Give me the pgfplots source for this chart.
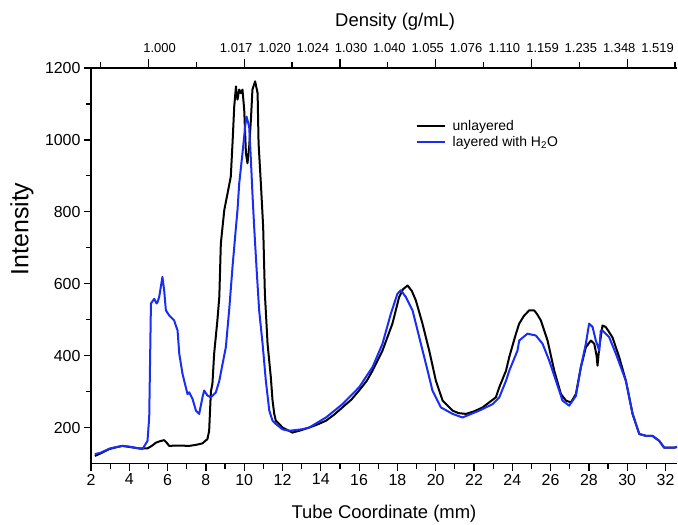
\documentclass[border=0pt]{standalone}
\usepackage{fontspec}
\setmainfont{Liberation Sans}
\usepackage{pgfplots}
\pgfplotsset{compat=1.18}
\definecolor{myblue}{RGB}{25,45,245}
\pgfplotstableread{
x y
2.2 121
2.5 128
2.95 140
3.3 145
3.64 149
4.0 146
4.52 142
4.95 142
5.2 150
5.39 158
5.6 162
5.82 165
5.95 158
6.08 149
6.5 150
7.13 149
7.5 152
7.82 156
8.08 168
8.17 191
8.26 300
8.34 321
8.43 405
8.6 498
8.7 563
8.78 712
8.96 805
9.13 851
9.3 898
9.39 991
9.48 1093
9.57 1149
9.62 1120
9.65 1112
9.74 1140
9.83 1130
9.91 1140
10.0 1084
10.09 963
10.17 935
10.26 981
10.35 1056
10.43 1140
10.57 1163
10.7 1130
10.75 991
10.87 879
10.99 758
11.08 572
11.22 433
11.39 340
11.48 275
11.57 238
11.65 219
11.83 210
12.0 200
12.52 186
13.0 193
13.39 200
13.8 208
14.27 219
14.7 236
15.13 256
15.6 278
16.0 303
16.4 330
16.7 358
17.22 414
17.74 489
18.09 563
18.3 585
18.53 595
18.75 580
18.96 554
19.31 489
19.66 414
20.01 330
20.36 275
20.88 247
21.2 240
21.58 238
22.0 245
22.45 256
23.14 284
23.32 312
23.67 358
23.84 396
24.19 461
24.36 489
24.6 510
24.88 526
25.14 526
25.3 515
25.49 498
25.84 442
26.19 358
26.54 293
26.80 275
27.06 270
27.32 293
27.58 368
27.84 423
28.1 442
28.28 433
28.4 400
28.45 372
28.54 423
28.71 484
28.89 479
29.23 451
29.58 396
29.93 330
30.28 238
30.63 182
30.98 177
31.32 177
31.67 163
31.93 144
32.45 144
32.6 146
}\unlayered
\pgfplotstableread{
x y
2.2 126
2.5 130
3.0 142
3.64 149
4.0 147
4.69 140
4.95 163
5.04 228
5.13 545
5.30 558
5.42 545
5.47 548
5.56 563
5.73 619
5.82 582
5.91 526
6.08 512
6.34 498
6.52 470
6.61 405
6.78 349
7.04 293
7.13 298
7.3 280
7.48 247
7.65 238
7.82 284
7.91 303
8.08 289
8.26 284
8.52 298
8.7 330
8.87 377
9.04 423
9.22 530
9.39 647
9.57 758
9.65 805
9.74 879
9.91 963
10.05 1037
10.12 1065
10.26 1037
10.35 944
10.43 851
10.52 758
10.64 647
10.78 526
10.96 433
11.13 330
11.31 247
11.48 219
11.65 210
12.0 195
12.35 191
13.0 195
13.39 200
14.27 228
15.13 265
16.0 312
16.7 368
17.22 433
17.66 517
18.0 572
18.18 582
18.44 563
18.79 526
19.14 451
19.49 377
19.83 303
20.27 256
20.88 238
21.4 228
22.27 247
22.97 265
23.32 284
23.67 330
23.84 358
24.27 414
24.36 442
24.79 461
25.23 456
25.58 433
25.93 386
26.28 330
26.62 275
26.97 261
27.32 288
27.58 368
27.84 433
28.01 489
28.19 480
28.36 442
28.54 414
28.62 470
28.71 470
29.06 451
29.41 405
29.93 330
30.28 238
30.63 182
30.98 177
31.32 177
31.67 163
31.93 144
32.45 144
32.6 146
}\layered
\begin{document}
\begin{tikzpicture}
\path[use as bounding box] (-91bp,-61.5bp) rectangle (587bp,463.5bp);
% top density axis
\begin{axis}[
  at={(0,0)}, anchor=south west,
  scale only axis, width=586bp, height=395.5bp,
  xmin=2, xmax=32.6, ymin=100, ymax=1200,
  axis x line*=top, hide y axis,
  axis line style={line width=1.2bp, -},
  tick style={line width=1.2bp, black},
  tick align=outside,
  xtick={5,10,15,20,25,30}, minor xtick={2.5,7.5,12.5,17.5,22.5,27.5,32.5},
  xticklabels={},
  major tick length=9bp, minor tick length=6bp,
  extra x ticks={6,10,12,14,16,18,20,22,24,26,28,30,32},
  extra x tick labels={1.000,1.017,1.020,1.024,1.030,1.040,1.055,1.076,1.110,1.159,1.235,1.348,1.519},
  extra x tick style={major tick length=0pt, tick style={draw=none},
    tick label style={xshift=-8bp, yshift=12bp, font=\fontsize{13}{14}\selectfont}},
  xticklabel style={font=\fontsize{13}{14}\selectfont},
  xlabel={Density (g/mL)},
  xlabel style={font=\fontsize{18.5}{20}\selectfont, at={(axis description cs:0.519,1.116)}, anchor=center},
]
\end{axis}
% main axis
\begin{axis}[
  at={(0,0)}, anchor=south west,
  scale only axis, width=586bp, height=395.5bp,
  xmin=2, xmax=32.6, ymin=100, ymax=1200,
  axis x line*=bottom, axis y line*=left,
  axis line style={line width=1.2bp, -},
  tick style={line width=1.2bp, black},
  tick align=outside,
  major tick length=7bp, minor tick length=5bp,
  xtick={2,4,...,32}, minor xtick={3,5,...,31},
  ytick={200,400,...,1200}, minor ytick={300,500,...,1100},
  /pgf/number format/assume math mode=true,
  /pgf/number format/1000 sep={},
  ticklabel style={font=\fontsize{16}{18}\selectfont},
  xlabel={Tube Coordinate (mm)},
  xlabel style={font=\fontsize{18.5}{20}\selectfont, at={(axis description cs:0.5,-0.128)}, anchor=center},
  ylabel={Intensity},
  ylabel style={font=\fontsize{25}{27}\selectfont, at={(axis description cs:-0.118,0.593)}, anchor=center, rotate=0},
  legend style={at={(axis description cs:0.548,0.878)}, anchor=north west, draw=none, fill=none,
    font=\fontsize{14}{15}\selectfont, row sep=0bp, column sep=5bp,
    /tikz/every odd column/.style={column sep=5bp}},
  legend cell align=left,
  legend image code/.code={\draw[#1, line width=2.4bp] (0bp,0bp) -- (28bp,0bp);},
]
\addplot[black, line width=2bp, line join=round] table[x=x,y=y] {\unlayered};
\addlegendentry{unlayered}
\addplot[myblue, line width=2bp, line join=round] table[x=x,y=y] {\layered};
\addlegendentry{layered with H\textsubscript{2}O}
\end{axis}
\end{tikzpicture}
\end{document}
